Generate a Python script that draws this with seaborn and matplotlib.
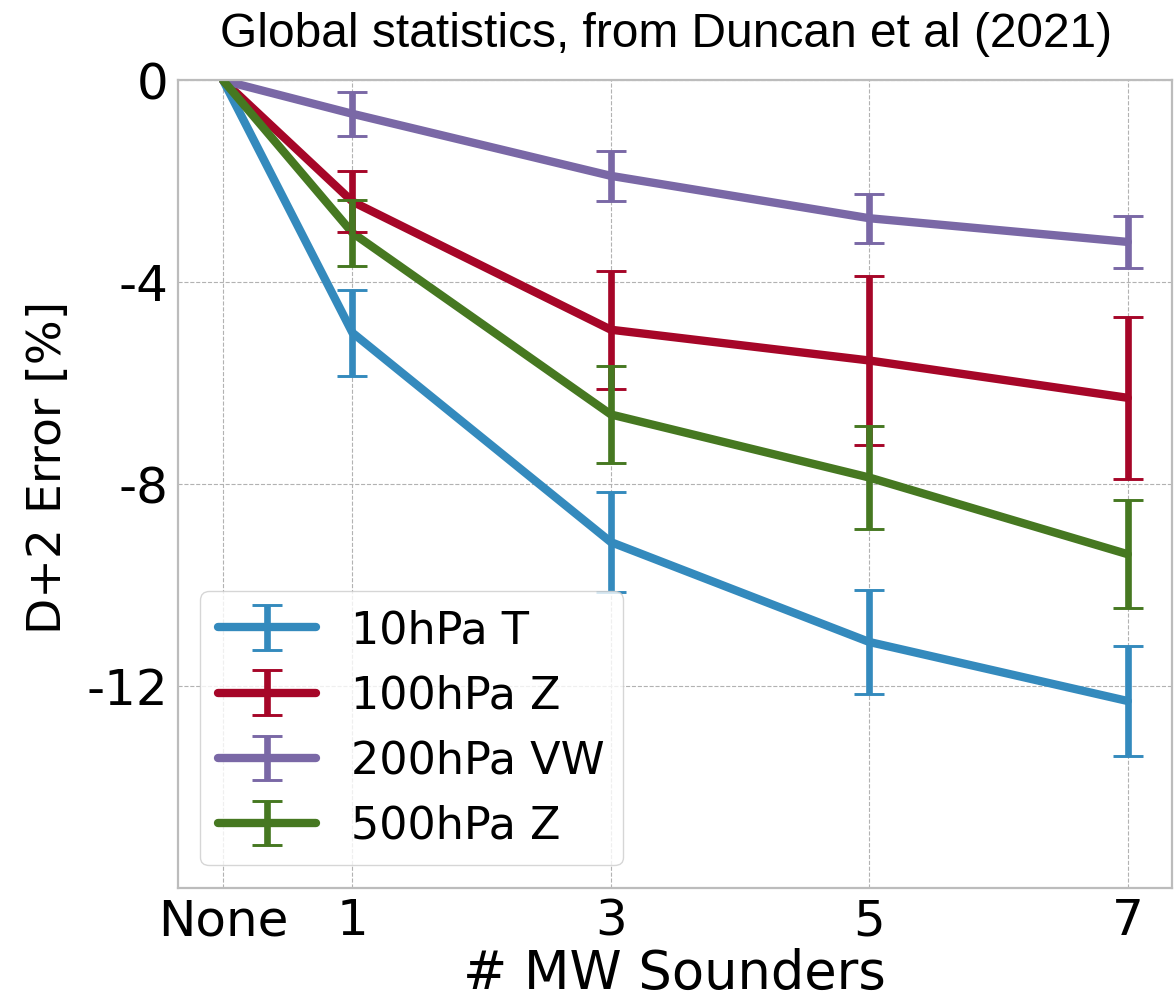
import matplotlib
matplotlib.use("Agg")
import matplotlib.pyplot as plt
import pandas as pd
import seaborn as sns

# Number of microwave sounders (0 is shown as "None")
n_sounders = [0, 1, 3, 5, 7]
x_labels = ["None", "1", "3", "5", "7"]
series = ["10hPa T", "100hPa Z", "200hPa VW", "500hPa Z"]

# Mean change in D+2 forecast error [%]
t10 = [0, -5.00, -9.15, -11.13, -12.30]
z100 = [0, -2.40, -4.94, -5.55, -6.29]
vw200 = [0, -0.66, -1.89, -2.73, -3.20]
z500 = [0, -3.02, -6.62, -7.87, -9.39]

# Error-bar half widths for 1, 3, 5 and 7 sounders
t10_err = [0.85, 0.99, 1.03, 1.09]
z100_err = [0.60, 1.17, 1.67, 1.60]
vw200_err = [0.44, 0.50, 0.49, 0.51]
z500_err = [0.65, 0.96, 1.02, 1.07]

y_ticks = [0, -4, -8, -12]
colors = ["#348ABD", "#A60628", "#7A68A6", "#467821"]

values = [t10, z100, vw200, z500]
errors = [t10_err, z100_err, vw200_err, z500_err]

sns.set_theme(style="whitegrid")
plt.rcParams["font.family"] = ["DejaVu Sans"]
plt.rcParams["text.color"] = "black"
plt.rcParams["axes.labelcolor"] = "black"

df = pd.DataFrame(
    {
        "n": [n for _ in series for n in n_sounders],
        "change": [v for vals in values for v in vals],
        "series": [s for s in series for _ in n_sounders],
    }
)

fig = plt.figure(figsize=(11.74, 10.05), dpi=100)
ax = fig.add_axes([178 / 1174, 1 - 887.7 / 1005, (1171.7 - 178) / 1174, (887.7 - 80.5) / 1005])
ax.set_facecolor("white")

sns.lineplot(
    data=df, x="n", y="change", hue="series", hue_order=series,
    palette=colors, linewidth=6, errorbar=None, legend=False, ax=ax,
)
lines = ax.get_lines()[: len(series)]

handles = []
for line, vals, errs, c in zip(lines, values, errors, colors):
    eb = ax.errorbar(
        n_sounders[1:], vals[1:], yerr=errs, fmt="none",
        ecolor=c, elinewidth=4.8, capsize=11, capthick=2.1,
    )
    handles.append((line, eb))

ax.set_xlim(-0.35, 7.34)
ax.set_ylim(-16, 0)
ax.set_xticks(n_sounders)
ax.set_xticklabels(x_labels)
ax.set_yticks(y_ticks)
ax.set_yticklabels([str(t) for t in y_ticks])

ax.tick_params(axis="both", direction="in", length=7, width=1.5,
               color="#222222", labelsize=36, pad=7, labelcolor="black")
ax.grid(True, color="#b2b2b2", linestyle="--", linewidth=0.8)
for sp in ax.spines.values():
    sp.set_color("#bcbcbc")
    sp.set_linewidth(1.6)

ax.set_xlabel("# MW Sounders", fontsize=38, color="black", labelpad=2)
ax.set_ylabel("D+2 Error [%]", fontsize=34, color="black", labelpad=9)
ax.yaxis.set_label_coords(-0.108, 0.521)
ax.set_title("Global statistics, from Duncan et al (2021)", fontsize=34.5,
             family=["Liberation Sans", "DejaVu Sans"], color="black",
             pad=24, x=0.491)

leg = ax.legend(handles, series, loc="lower left", fontsize=32,
                handlelength=2.2, frameon=True, framealpha=0.8,
                edgecolor="#cccccc", fancybox=True, labelcolor="black")

fig.savefig("out.png", dpi=100)
